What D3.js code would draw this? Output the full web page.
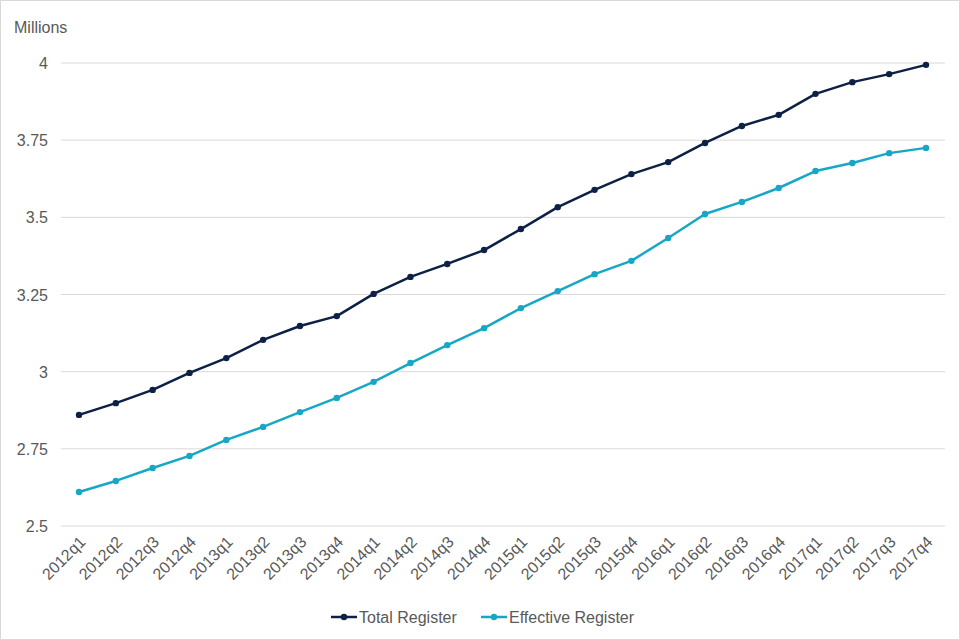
<!DOCTYPE html>
<html>
<head>
<meta charset="utf-8">
<script src="https://cdn.jsdelivr.net/npm/d3@7"></script>
<style>
html,body{margin:0;padding:0;background:#fff;}
svg{display:block;}
text{font-family:"Liberation Sans",Arial,sans-serif;}
</style>
</head>
<body>
<svg id="chart" width="960" height="640"></svg>
<script>
const categories = ["2012q1","2012q2","2012q3","2012q4","2013q1","2013q2","2013q3","2013q4",
  "2014q1","2014q2","2014q3","2014q4","2015q1","2015q2","2015q3","2015q4",
  "2016q1","2016q2","2016q3","2016q4","2017q1","2017q2","2017q3","2017q4"];
const totalRegister = [2.860,2.898,2.941,2.996,3.044,3.103,3.148,3.180,3.252,3.307,3.349,3.394,
  3.462,3.533,3.589,3.640,3.679,3.741,3.796,3.832,3.900,3.938,3.964,3.994];
const effectiveRegister = [2.610,2.646,2.688,2.727,2.779,2.821,2.869,2.915,2.967,3.028,3.086,3.141,
  3.206,3.261,3.316,3.359,3.433,3.511,3.550,3.595,3.650,3.676,3.708,3.725];
const yTicks = [2.5,2.75,3,3.25,3.5,3.75,4];
const seriesNames = ["Total Register","Effective Register"];
const seriesColors = ["#0c2145","#17a7c6"];

const FS = 16;
const svg = d3.select("#chart");
const W = 960, H = 640;
svg.append("rect").attr("x",0.5).attr("y",0.5).attr("width",W-1).attr("height",H-1)
  .attr("fill","#fff").attr("stroke","#d9d9d9");

const plotLeft = 61, plotRight = 945;
const x = d3.scalePoint().domain(categories).range([79, 926]);
const y = d3.scaleLinear().domain([2.5, 4]).range([526, 63]);

// gridlines
svg.append("g").selectAll("line").data(yTicks).join("line")
  .attr("x1", plotLeft).attr("x2", plotRight)
  .attr("y1", d => y(d)).attr("y2", d => y(d))
  .attr("stroke", "#d9d9d9").attr("stroke-width", 1);

// y axis labels
const yAxis = d3.axisLeft(y).tickValues(yTicks).tickSize(0).tickPadding(0)
  .tickFormat(d => d3.format("~g")(d));
const gy = svg.append("g").attr("transform", "translate(48,0)").call(yAxis);
gy.select(".domain").remove();
gy.selectAll("text").attr("font-size", FS).attr("fill", "#595959")
  .attr("font-family", '"Liberation Sans",Arial,sans-serif').attr("dy","0.35em");

svg.append("text").attr("x", 14).attr("y", 33).text("Millions")
  .attr("font-size", FS).attr("fill", "#595959");

// x axis labels
const xAxis = d3.axisBottom(x).tickSize(0).tickPadding(0);
const gx = svg.append("g").attr("transform", "translate(0,526)").call(xAxis);
gx.select(".domain").remove();
gx.selectAll("text")
  .attr("font-size", FS).attr("fill", "#595959")
  .attr("font-family", '"Liberation Sans",Arial,sans-serif')
  .attr("text-anchor", "end")
  .attr("dy", null).attr("y", 0)
  .attr("transform", "translate(7,17) rotate(-45)");

const line = d3.line().x((d, i) => x(categories[i])).y(d => y(d));
[totalRegister, effectiveRegister].forEach((s, k) => {
  const g = svg.append("g");
  g.append("path").datum(s).attr("d", line).attr("fill", "none")
    .attr("stroke", seriesColors[k]).attr("stroke-width", 2.5).attr("stroke-linejoin","round");
  g.selectAll("circle").data(s).join("circle")
    .attr("cx", (d, i) => x(categories[i])).attr("cy", d => y(d)).attr("r", 3.2)
    .attr("fill", seriesColors[k]);
});

// legend
const legendItems = [{x:331, tx:359}, {x:481, tx:509}];
legendItems.forEach((it, k) => {
  const g = svg.append("g");
  g.append("line").attr("x1", it.x).attr("x2", it.x + 26).attr("y1", 617).attr("y2", 617)
    .attr("stroke", seriesColors[k]).attr("stroke-width", 2.5);
  g.append("circle").attr("cx", it.x + 13).attr("cy", 617).attr("r", 3.2).attr("fill", seriesColors[k]);
  g.append("text").attr("x", it.tx).attr("y", 623).text(seriesNames[k])
    .attr("font-size", FS).attr("fill", "#595959");
});
</script>
</body>
</html>
